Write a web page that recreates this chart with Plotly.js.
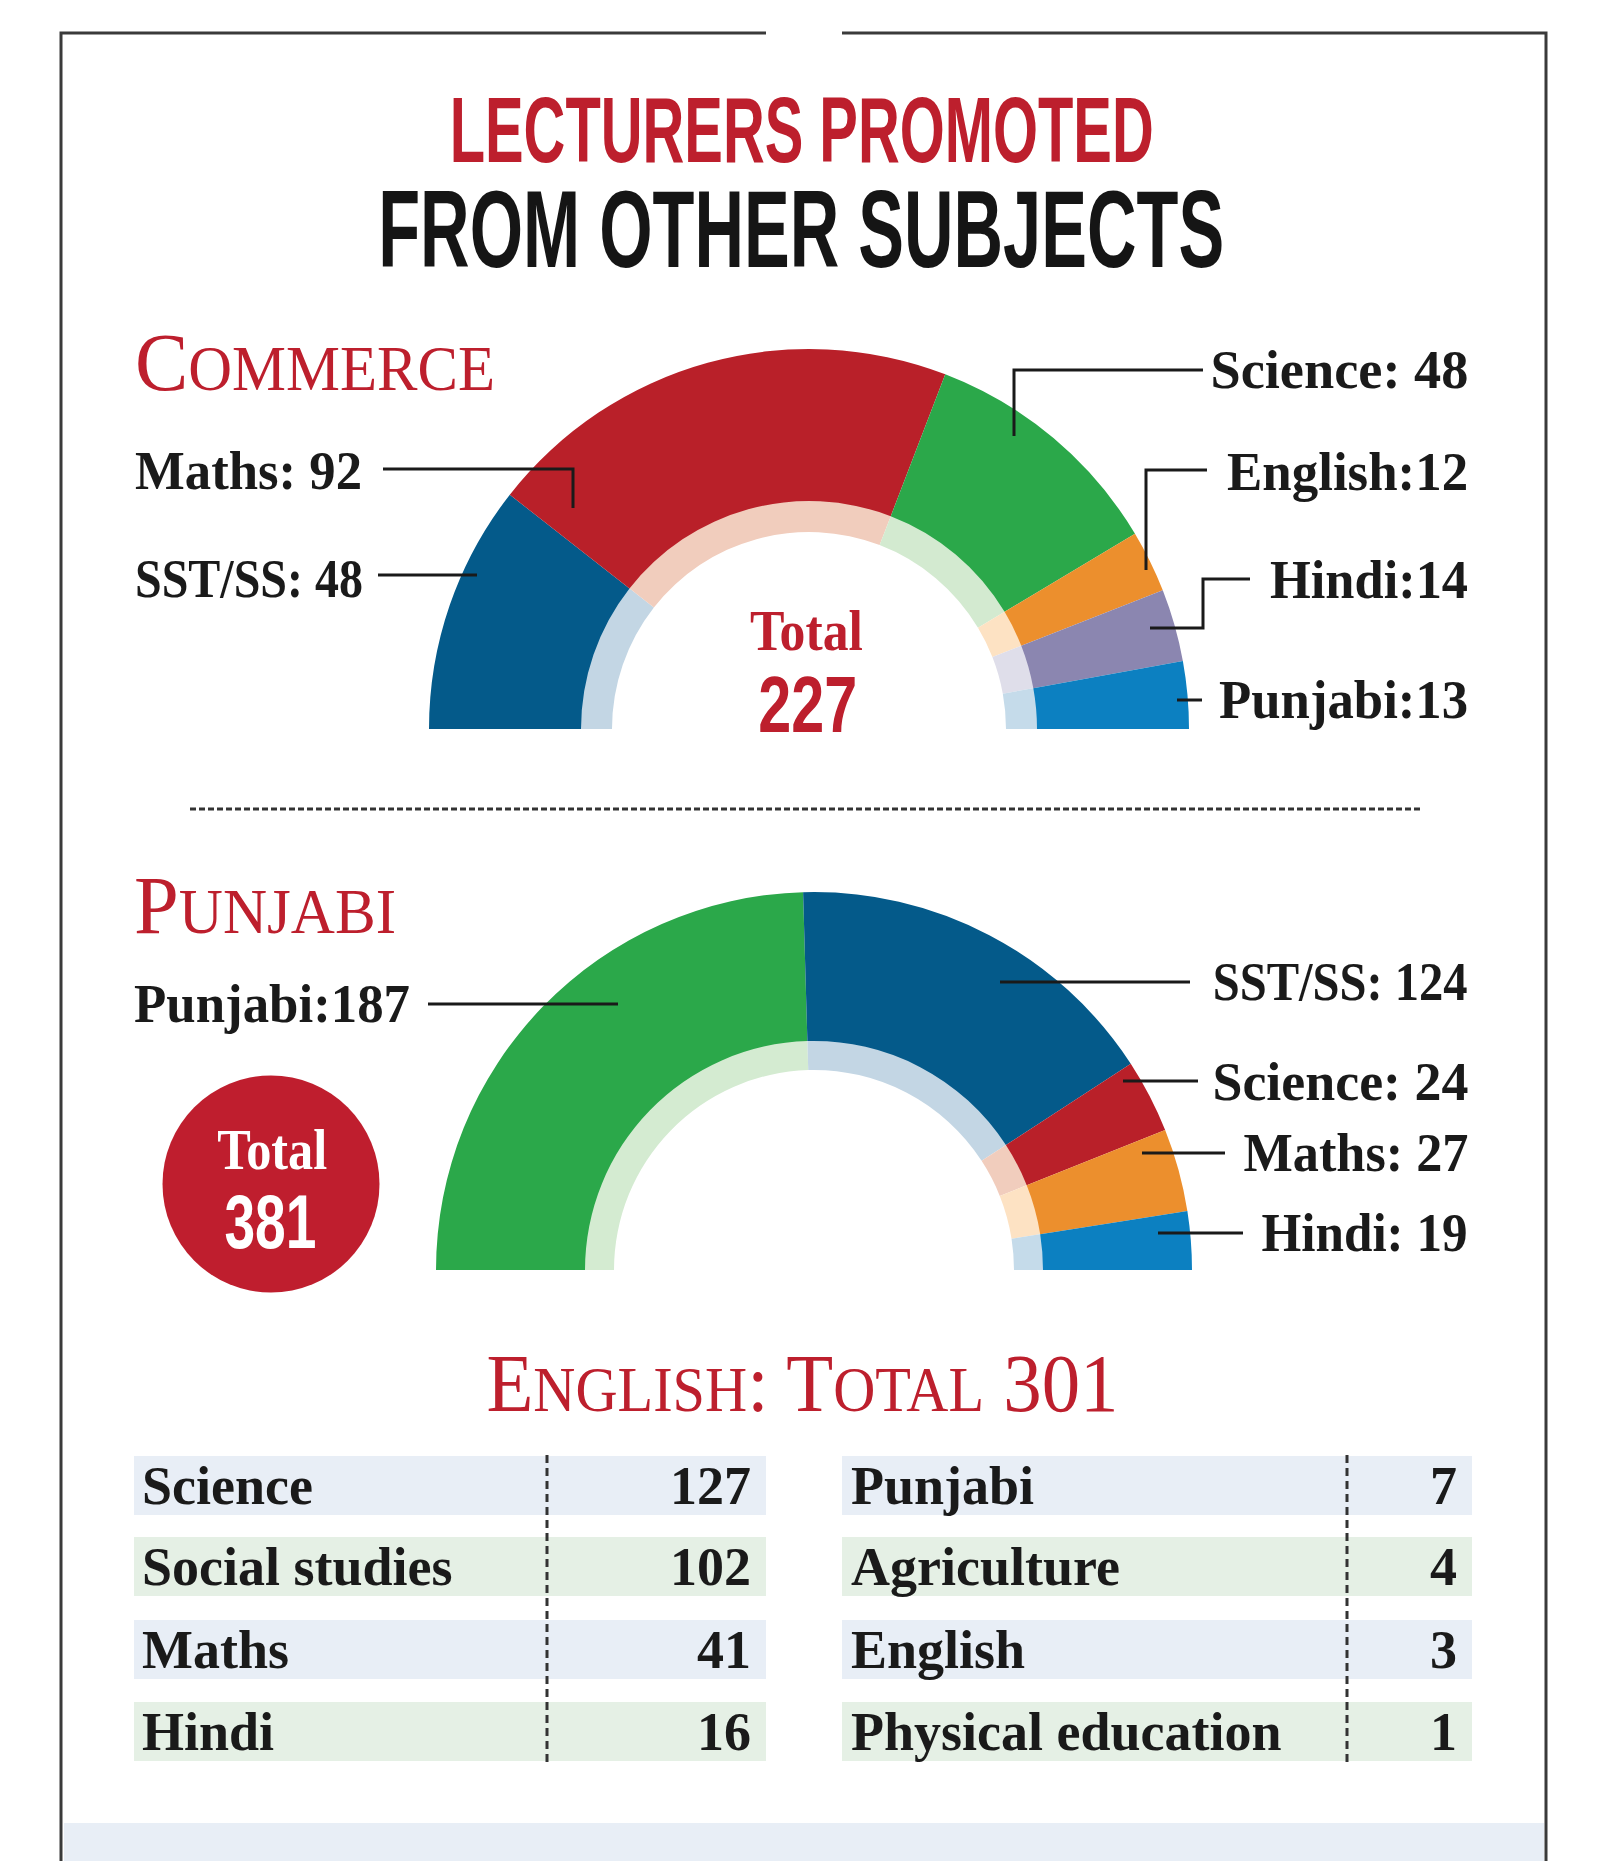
<!DOCTYPE html>
<html>
<head>
<meta charset="utf-8">
<script src="https://cdn.plot.ly/plotly-3.0.1.min.js"></script>
<style>
html,body{margin:0;padding:0;background:#ffffff;}
#chart{width:1600px;height:1861px;}
</style>
</head>
<body>
<div id="chart"></div>
<script>
// ---------------- DATA ----------------
const commerceSubjects = ['SST/SS', 'Maths', 'Science', 'English', 'Hindi', 'Punjabi'];
const commerceValues   = [48, 92, 48, 12, 14, 13];
const commerceSeps     = [': ', ': ', ': ', ':', ':', ':'];

const punjabiSubjects  = ['Punjabi', 'SST/SS', 'Science', 'Maths', 'Hindi'];
const punjabiValues    = [187, 124, 24, 27, 19];
const punjabiSeps      = [':', ': ', ': ', ': ', ': '];

const englishSubjectsLeft  = ['Science', 'Social studies', 'Maths', 'Hindi'];
const englishValuesLeft    = [127, 102, 41, 16];
const englishSubjectsRight = ['Punjabi', 'Agriculture', 'English', 'Physical education'];
const englishValuesRight   = [7, 4, 3, 1];

const titleLine1 = 'LECTURERS PROMOTED';
const titleLine2 = 'FROM OTHER SUBJECTS';

// ---------------- STYLE ----------------
const W = 1600, H = 1861;
const RED = '#bd1f2d', INK = '#1a1a1a', FRAME = '#3a3a3a';
const SERIF = 'Liberation Serif, Times New Roman, serif';
const COND = 'Liberation Sans Narrow, Liberation Sans, Arial Narrow, sans-serif';

const commerceColors = ['#045a8a', '#b92029', '#2ba84a', '#ec8f2d', '#8b86b0', '#0c80c1'];
const commerceLight  = ['#c3d6e4', '#f1cdbd', '#d3ead0', '#fde2c3', '#dfdeea', '#c5dbea'];
const punjabiColors  = ['#2ba84a', '#045a8a', '#b92029', '#ec8f2d', '#0c80c1'];
const punjabiLight   = ['#d4ebd1', '#c3d6e4', '#f1cdbd', '#fde2c3', '#c5dbea'];
const rowFills = ['#e8eef6', '#e5f0e5'];

// label text widths (px) measured on the reference
const commerceLabelW = [228, 227, 258, 241, 198, 249];
const punjabiLabelW  = [276, 255, 256, 225, 206];

const C1 = {cx: 809, cy: 729, R: 380, r1: 228, r2: 197};
const C2 = {cx: 814, cy: 1270, R: 378, r1: 229, r2: 200};

const sum = a => a.reduce((s, v) => s + v, 0);
const px = x => x / W;
const py = y => 1 - y / H;

// ---------------- TRACES ----------------
function dom(c, r) {
  return {x: [px(c.cx - r), px(c.cx + r)], y: [py(c.cy + r), py(c.cy - r)]};
}
function halfPie(values, colors, c, rOut, rIn) {
  return {
    type: 'pie', values: values.concat([sum(values)]),
    marker: {colors: colors.concat(['rgba(0,0,0,0)']), line: {width: 0}},
    sort: false, direction: 'clockwise', rotation: -90,
    hole: rIn / rOut, textinfo: 'none', textposition: 'none',
    hoverinfo: 'skip', showlegend: false, domain: dom(c, rOut)
  };
}
const data = [
  halfPie(commerceValues, commerceLight, C1, C1.r1 + 1, C1.r2),
  halfPie(commerceValues, commerceColors, C1, C1.R, C1.r1),
  halfPie(punjabiValues, punjabiLight, C2, C2.r1 + 1, C2.r2),
  halfPie(punjabiValues, punjabiColors, C2, C2.R, C2.r1)
];

// ---------------- SHAPES ----------------
const shapes = [];
function poly(pts, o) {
  const d = pts.map((p, i) => (i ? 'L' : 'M') + px(p[0]) + ',' + py(p[1])).join(' ');
  shapes.push(Object.assign({type: 'path', path: d, xref: 'paper', yref: 'paper',
    line: {color: INK, width: 3}}, o || {}));
}
function rect(x0, y0, x1, y1, fill) {
  shapes.push({type: 'rect', xref: 'paper', yref: 'paper', x0: px(x0), x1: px(x1),
    y0: py(y1), y1: py(y0), fillcolor: fill, line: {width: 0}, layer: 'below'});
}

// frame
poly([[61, 1861], [61, 33], [766, 33]], {line: {color: FRAME, width: 3}});
poly([[842, 33], [1546, 33], [1546, 1861]], {line: {color: FRAME, width: 3}});
rect(64, 1823, 1544, 1861, '#e8eef6');

// commerce leaders
const commerceLeaders = [
  [[378, 575], [477, 575]],
  [[383, 469], [573, 469], [573, 508]],
  [[1014, 436], [1014, 370], [1203, 370]],
  [[1146, 570], [1146, 470], [1207, 470]],
  [[1150, 628], [1203, 628], [1203, 579], [1250, 579]],
  [[1177, 700], [1202, 700]]
];
commerceLeaders.forEach(p => poly(p));
const punjabiLeaders = [
  [[428, 1004], [618, 1004]],
  [[1000, 982], [1190, 982]],
  [[1123, 1081], [1198, 1081]],
  [[1142, 1153], [1225, 1153]],
  [[1158, 1233], [1243, 1233]]
];
punjabiLeaders.forEach(p => poly(p));

// dashed separator
poly([[190, 809], [1420, 809]], {line: {color: '#333333', width: 3, dash: '6px,3px'}});

// red total circle
shapes.push({type: 'circle', xref: 'paper', yref: 'paper',
  x0: px(271 - 108.5), x1: px(271 + 108.5), y0: py(1184 + 108.5), y1: py(1184 - 108.5),
  fillcolor: '#bf1e2e', line: {width: 0}});

// ---------------- TEXT ----------------
const annotations = [];
const targets = [];
function addText(text, x, y, o, w) {
  annotations.push(Object.assign({text: text, x: px(x), y: py(y), xref: 'paper', yref: 'paper',
    showarrow: false, borderpad: 0, borderwidth: 0, xanchor: 'center', yanchor: 'middle',
    align: 'center'}, o));
  targets.push(w || null);
}
const labelFont = {family: SERIF, size: 54, color: INK, weight: 700};
const L = {xanchor: 'left', align: 'left', font: labelFont};
const R = {xanchor: 'right', align: 'right', font: labelFont};

addText(titleLine1, 801, 130, {font: {family: COND, size: 92, color: RED, weight: 700}}, 704);
addText(titleLine2, 801, 229, {font: {family: COND, size: 109, color: '#151515', weight: 700}}, 846);

const big = s => '<span style="font-size:83px">' + s + '</span>';
addText(big('C') + 'OMMERCE', 135, 362,
  {xanchor: 'left', align: 'left', font: {family: SERIF, size: 63, color: RED}}, 360);
addText(big('P') + 'UNJABI', 134, 905,
  {xanchor: 'left', align: 'left', font: {family: SERIF, size: 63, color: RED}}, 262);

// commerce labels
const commerceLabelPos = [[135, 579, 'L'], [135, 471, 'L'], [1468, 370, 'R'], [1468, 472, 'R'], [1468, 580, 'R'], [1468, 700, 'R']];
commerceSubjects.forEach((s, i) => {
  const p = commerceLabelPos[i];
  addText(s + commerceSeps[i] + commerceValues[i], p[0], p[1], p[2] === 'L' ? L : R, commerceLabelW[i]);
});
addText('Total', 806, 630, {font: {family: SERIF, size: 58, color: RED, weight: 700}}, 113);
addText(String(sum(commerceValues)), 807, 704, {font: {family: COND, size: 80, color: RED, weight: 700}}, 99);

// punjabi labels
const punjabiLabelPos = [[134, 1004, 'L'], [1468, 982, 'R'], [1468, 1082, 'R'], [1468, 1153, 'R'], [1468, 1233, 'R']];
punjabiSubjects.forEach((s, i) => {
  const p = punjabiLabelPos[i];
  addText(s + punjabiSeps[i] + punjabiValues[i], p[0], p[1], p[2] === 'L' ? L : R, punjabiLabelW[i]);
});
addText('Total', 272, 1150, {font: {family: SERIF, size: 56, color: '#ffffff', weight: 700}}, 110);
addText(String(sum(punjabiValues)), 270, 1221, {font: {family: COND, size: 76, color: '#ffffff', weight: 700}}, 92);

// english header
const englishTotal = sum(englishValuesLeft) + sum(englishValuesRight);
addText(big('E') + 'NGLISH' + big(': T') + 'OTAL' + big(' ' + englishTotal), 803, 1383,
  {font: {family: SERIF, size: 63, color: RED}}, 632);

// english table
const rowTop = [1456, 1537, 1620, 1702];
const rowH = 59;
const tables = [
  {names: englishSubjectsLeft, vals: englishValuesLeft, x0: 134, x1: 766, tx: 142, vx: 751, div: 547},
  {names: englishSubjectsRight, vals: englishValuesRight, x0: 842, x1: 1472, tx: 851, vx: 1457, div: 1347}
];
tables.forEach(t => {
  t.names.forEach((n, i) => {
    rect(t.x0, rowTop[i], t.x1, rowTop[i] + rowH, rowFills[i % 2]);
    const yc = rowTop[i] + rowH / 2;
    addText(n, t.tx, yc, L);
    addText(String(t.vals[i]), t.vx, yc, R);
  });
  poly([[t.div, 1455], [t.div, 1764]], {line: {color: '#333333', width: 3, dash: '8px,5px'}});
});

// ---------------- LAYOUT ----------------
const layout = {
  width: W, height: H, margin: {l: 0, r: 0, t: 0, b: 0},
  paper_bgcolor: '#ffffff', plot_bgcolor: '#ffffff', showlegend: false,
  shapes: shapes, annotations: annotations
};

const gd = document.getElementById('chart');
Plotly.newPlot(gd, data, layout, {displayModeBar: false, staticPlot: true}).then(() => {
  gd.querySelectorAll('g.annotation').forEach(g => {
    const i = +g.getAttribute('data-index');
    const w = targets[i];
    if (!w) return;
    const txt = g.querySelector('text.annotation-text');
    if (!txt) return;
    txt.setAttribute('textLength', w);
    txt.setAttribute('lengthAdjust', 'spacingAndGlyphs');
  });
});
</script>
</body>
</html>
